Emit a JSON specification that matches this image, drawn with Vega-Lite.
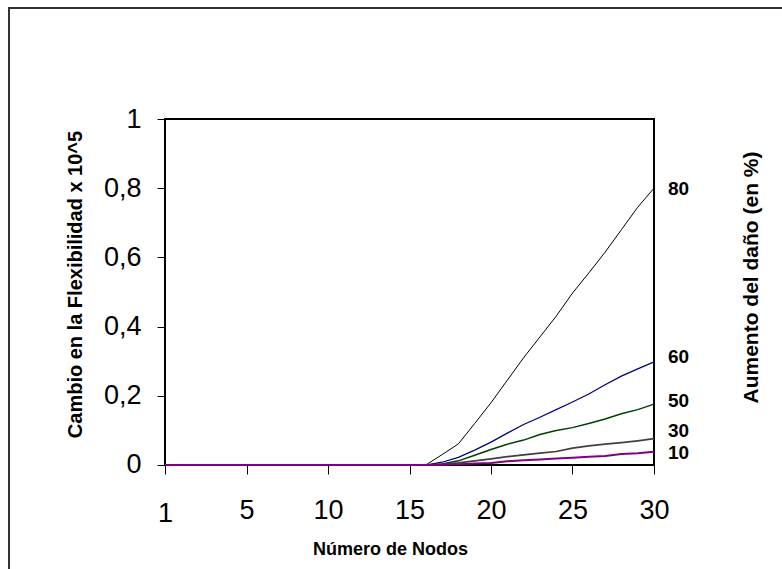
{
  "$schema": "https://vega.github.io/schema/vega-lite/v6.json",
  "autosize": "none",
  "padding": {"left": 9, "top": 8, "right": -6, "bottom": -6},
  "width": 779,
  "height": 567,
  "background": "white",
  "config": {
    "view": {"stroke": "#333333", "strokeWidth": 2},
    "font": "Liberation Sans",
    "axis": {"labelColor": "black", "titleColor": "black", "labelFont": "Liberation Sans", "titleFont": "Liberation Sans"}
  },
  "datasets": {
    "marco": [{"x0": 0, "x1": 30, "y0": 0, "y1": 1}],
    "series": [
      {"nodo": 0, "d80": 0, "d60": 0, "d50": 0, "d30": 0, "d10": 0},
      {"nodo": 1, "d80": 0, "d60": 0, "d50": 0, "d30": 0, "d10": 0},
      {"nodo": 2, "d80": 0, "d60": 0, "d50": 0, "d30": 0, "d10": 0},
      {"nodo": 3, "d80": 0, "d60": 0, "d50": 0, "d30": 0, "d10": 0},
      {"nodo": 4, "d80": 0, "d60": 0, "d50": 0, "d30": 0, "d10": 0},
      {"nodo": 5, "d80": 0, "d60": 0, "d50": 0, "d30": 0, "d10": 0},
      {"nodo": 6, "d80": 0, "d60": 0, "d50": 0, "d30": 0, "d10": 0},
      {"nodo": 7, "d80": 0, "d60": 0, "d50": 0, "d30": 0, "d10": 0},
      {"nodo": 8, "d80": 0, "d60": 0, "d50": 0, "d30": 0, "d10": 0},
      {"nodo": 9, "d80": 0, "d60": 0, "d50": 0, "d30": 0, "d10": 0},
      {"nodo": 10, "d80": 0, "d60": 0, "d50": 0, "d30": 0, "d10": 0},
      {"nodo": 11, "d80": 0, "d60": 0, "d50": 0, "d30": 0, "d10": 0},
      {"nodo": 12, "d80": 0, "d60": 0, "d50": 0, "d30": 0, "d10": 0},
      {"nodo": 13, "d80": 0, "d60": 0, "d50": 0, "d30": 0, "d10": 0},
      {"nodo": 14, "d80": 0, "d60": 0, "d50": 0, "d30": 0, "d10": 0},
      {"nodo": 15, "d80": 0, "d60": 0, "d50": 0, "d30": 0, "d10": 0},
      {"nodo": 16, "d80": 0, "d60": 0, "d50": 0, "d30": 0, "d10": 0},
      {"nodo": 17, "d80": 0.03, "d60": 0.008, "d50": 0.003, "d30": 0.002, "d10": 0.001},
      {"nodo": 18, "d80": 0.061, "d60": 0.022, "d50": 0.012, "d30": 0.006, "d10": 0.002},
      {"nodo": 19, "d80": 0.12, "d60": 0.043, "d50": 0.028, "d30": 0.012, "d10": 0.004},
      {"nodo": 20, "d80": 0.18, "d60": 0.066, "d50": 0.045, "d30": 0.018, "d10": 0.006},
      {"nodo": 21, "d80": 0.245, "d60": 0.092, "d50": 0.06, "d30": 0.024, "d10": 0.011},
      {"nodo": 22, "d80": 0.31, "d60": 0.117, "d50": 0.072, "d30": 0.029, "d10": 0.014},
      {"nodo": 23, "d80": 0.37, "d60": 0.138, "d50": 0.088, "d30": 0.034, "d10": 0.016},
      {"nodo": 24, "d80": 0.43, "d60": 0.16, "d50": 0.1, "d30": 0.039, "d10": 0.019},
      {"nodo": 25, "d80": 0.497, "d60": 0.182, "d50": 0.108, "d30": 0.049, "d10": 0.021},
      {"nodo": 26, "d80": 0.555, "d60": 0.205, "d50": 0.12, "d30": 0.055, "d10": 0.024},
      {"nodo": 27, "d80": 0.615, "d60": 0.232, "d50": 0.133, "d30": 0.06, "d10": 0.026},
      {"nodo": 28, "d80": 0.68, "d60": 0.257, "d50": 0.148, "d30": 0.065, "d10": 0.032},
      {"nodo": 29, "d80": 0.745, "d60": 0.278, "d50": 0.16, "d30": 0.07, "d10": 0.034},
      {"nodo": 30, "d80": 0.8, "d60": 0.298, "d50": 0.176, "d30": 0.076, "d10": 0.038}
    ],
    "etiquetas": [
      {"lab": "80", "n": 30, "v": 0.797},
      {"lab": "60", "n": 30, "v": 0.312},
      {"lab": "50", "n": 30, "v": 0.184},
      {"lab": "30", "n": 30, "v": 0.097},
      {"lab": "10", "n": 30, "v": 0.035}
    ]
  },
  "layer": [
    {
      "data": {"name": "marco"},
      "mark": {"type": "rect", "fill": "transparent", "stroke": "black", "strokeWidth": 2},
      "encoding": {
        "x": {
          "field": "x0", "type": "quantitative",
          "scale": {"domain": [-9.5706, 38.2209], "nice": false, "zero": false},
          "axis": {
            "orient": "bottom", "offset": -110,
            "values": [0, 5, 10, 15, 20, 25, 30],
            "labelExpr": "datum.value === 0 ? '1' : datum.label",
            "domain": false, "grid": false,
            "tickSize": 9, "tickColor": "black", "tickWidth": 1,
            "labelFontSize": 27, "labelFlush": false, "labelOverlap": false,
            "labelPadding": {"condition": {"test": "datum.value === 0", "value": 26}, "value": 23},
            "title": "Número de Nodos", "titleFontSize": 18, "titleFontWeight": "bold",
            "titlePadding": 14, "titleX": 381
          }
        },
        "x2": {"field": "x1"},
        "y": {
          "field": "y0", "type": "quantitative",
          "scale": {"domain": [-0.31792, 1.32081], "nice": false, "zero": false},
          "axis": {
            "orient": "left", "offset": -156,
            "values": [0, 0.2, 0.4, 0.6, 0.8, 1],
            "format": "~g",
            "labelExpr": "replace(datum.label, '.', ',')",
            "domain": false, "grid": false,
            "tickSize": 8, "tickColor": "black", "tickWidth": 1,
            "labelFontSize": 27, "labelPadding": 16, "labelOverlap": false, "labelFlush": false,
            "title": "Cambio en la Flexibilidad  x 10^5", "titleFontSize": 20, "titleFontWeight": "bold",
            "titlePadding": 18, "titleY": 276
          }
        },
        "y2": {"field": "y1"}
      }
    },
    {
      "data": {"name": "series"},
      "transform": [{"fold": ["d80", "d60", "d50", "d30", "d10"], "as": ["serie", "valor"]}],
      "mark": {"type": "line", "strokeCap": "butt"},
      "encoding": {
        "x": {"field": "nodo", "type": "quantitative"},
        "y": {"field": "valor", "type": "quantitative", "axis": null},
        "color": {
          "field": "serie", "type": "nominal", "legend": null,
          "scale": {"domain": ["d80", "d60", "d50", "d30", "d10"], "range": ["#000000", "#000080", "#004000", "#404040", "#800080"]}
        },
        "strokeWidth": {
          "field": "serie", "type": "nominal", "legend": null,
          "scale": {"domain": ["d80", "d60", "d50", "d30", "d10"], "range": [1, 2, 2, 2, 2]}
        }
      }
    },
    {
      "data": {"name": "etiquetas"},
      "mark": {"type": "text", "align": "left", "baseline": "middle", "dx": 14, "fontSize": 19, "fontWeight": "bold", "font": "Liberation Sans", "color": "black"},
      "encoding": {
        "x": {"field": "n", "type": "quantitative"},
        "y": {
          "field": "v", "type": "quantitative",
          "axis": {
            "orient": "right", "offset": -134,
            "labels": false, "ticks": false, "domain": false, "grid": false,
            "title": "Aumento del daño (en %)", "titleFontSize": 21, "titleFontWeight": "bold",
            "titleAngle": 270, "titleBaseline": "top", "titlePadding": 86, "titleY": 269
          }
        },
        "text": {"field": "lab", "type": "nominal"}
      }
    }
  ],
  "resolve": {"axis": {"y": "independent"}}
}
